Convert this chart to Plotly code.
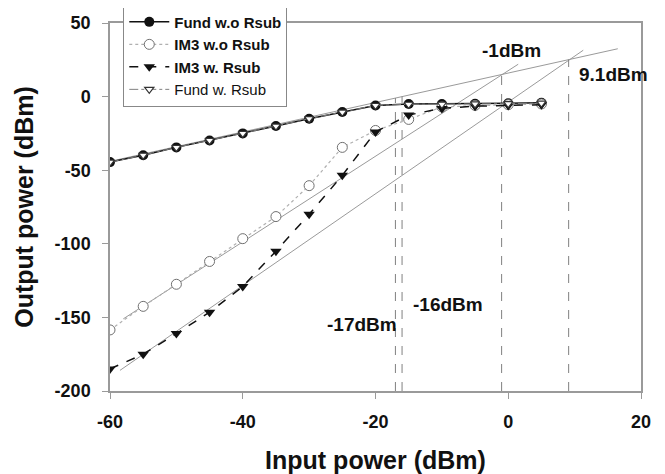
import plotly.graph_objects as go

# ---- data ----
pin = [-60, -55, -50, -45, -40, -35, -30, -25, -20, -15, -10, -5, 0, 5]
fund_wo = [-44.5, -39.8, -34.5, -29.8, -25, -20, -15, -10.5, -6, -5, -5, -4.8, -4.6, -4.2]
im3_wo = [-158.5, -142.5, -127.5, -112, -96.5, -81.5, -60.5, -34.5, -23, -15.5, -7, -6, -5.5, -5]
im3_w = [-185, -175, -161, -146.5, -129, -105, -80, -53.5, -24, -12.5, -8, -6.5, -6, -5.5]
fund_w = [-44.5, -39.8, -34.5, -29.8, -25, -20, -15, -10.5, -6, -5.2, -5.2, -5, -4.8, -4.4]

# extrapolation lines (start/end)
fund_ext_x = [-60, 16.5]
fund_ext_y = [-44, 32.5]
im3wo_ext_x = [-58, 1.5]
im3wo_ext_y = [-151, 22]
im3w_ext_x = [-58.5, 11.3]
im3w_ext_y = [-186, 31.5]

# vertical markers
vline_x = [-17, -16, -1, 9.1]
vline_top = [-1, 0, 15, 25.2]
vline_bottom = -200

# labels
ann_text = ["-1dBm", "9.1dBm", "-16dBm", "-17dBm"]
ann_x = [0.5, 15.8, -9.1, -22.0]
ann_y = [31.3, 14.7, -141, -154.5]

x_ticks = [-60, -40, -20, 0, 20]
y_ticks = [50, 0, -50, -100, -150, -200]

fig = go.Figure()

# reference lines (no legend)
for xs, ys in [(fund_ext_x, fund_ext_y), (im3wo_ext_x, im3wo_ext_y), (im3w_ext_x, im3w_ext_y)]:
    fig.add_trace(go.Scatter(x=xs, y=ys, mode="lines", showlegend=False, hoverinfo="skip",
                             line=dict(color="#9a9a9a", width=1)))
for vx, vt in zip(vline_x, vline_top):
    fig.add_trace(go.Scatter(x=[vx, vx], y=[vline_bottom, vt], mode="lines", showlegend=False,
                             hoverinfo="skip", line=dict(color="#808080", width=1, dash="dash")))

fig.add_trace(go.Scatter(x=pin, y=fund_wo, mode="lines+markers", name="<b>Fund w.o Rsub</b>",
                         line=dict(color="#111111", width=1.5),
                         marker=dict(symbol="circle", size=10, color="#111111")))
fig.add_trace(go.Scatter(x=pin, y=im3_wo, mode="lines+markers", name="<b>IM3 w.o Rsub</b>",
                         line=dict(color="#b0b0b0", width=1.2, dash="dot"),
                         marker=dict(symbol="circle", size=10, color="white",
                                     line=dict(color="#707070", width=1))))
fig.add_trace(go.Scatter(x=pin, y=im3_w, mode="lines+markers", name="<b>IM3 w. Rsub</b>",
                         line=dict(color="#111111", width=1.5, dash="dash"),
                         marker=dict(symbol="triangle-down", size=10, color="#111111")))
fig.add_trace(go.Scatter(x=pin, y=fund_w, mode="lines+markers", name="Fund w. Rsub",
                         line=dict(color="#808080", width=1, dash="dashdot"),
                         marker=dict(symbol="triangle-down", size=8, color="white",
                                     line=dict(color="#333333", width=1.2))))

for t, ax_, ay_ in zip(ann_text, ann_x, ann_y):
    fig.add_annotation(x=ax_, y=ay_, text=f"<b>{t}</b>", showarrow=False,
                       font=dict(size=19, color="#111111"), xanchor="center", yanchor="middle")

axis_common = dict(showgrid=False, zeroline=False, showline=True, linecolor="#9a9a9a",
                   linewidth=1.5, mirror=True, ticks="outside", ticklen=6, tickcolor="#9a9a9a",
                   automargin=False,
                   tickfont=dict(size=18, color="#111111", family="Liberation Sans, Arial, sans-serif"))

fig.update_xaxes(range=[-60, 20], tickvals=x_ticks, ticktext=[f"<b>{v}</b>" for v in x_ticks],
                 ticklabelstandoff=8,
                 title=dict(text="<b>Input power (dBm)</b>", font=dict(size=25, color="#111111"), standoff=22),
                 **axis_common)
fig.update_yaxes(range=[-200, 50], tickvals=y_ticks, ticktext=[f"<b>{v}</b>" for v in y_ticks],
                 ticklabelstandoff=8,
                 title=dict(text="<b>Output power (dBm)</b>", font=dict(size=25, color="#111111"), standoff=14),
                 **axis_common)

# page body adds an 8px offset; figure sized to fit the 665x474 window
fig.update_layout(
    width=657, height=466,
    margin=dict(l=102, r=24, t=15, b=83, autoexpand=False),
    plot_bgcolor="white", paper_bgcolor="white",
    font=dict(family="Liberation Sans, Arial, sans-serif", color="#111111"),
    legend=dict(x=0.025, y=1.05, xanchor="left", yanchor="top", bgcolor="white",
                bordercolor="#888888", borderwidth=1, font=dict(size=15, color="#111111"),
                tracegroupgap=0, itemwidth=40),
)

fig.write_html("out.html")
